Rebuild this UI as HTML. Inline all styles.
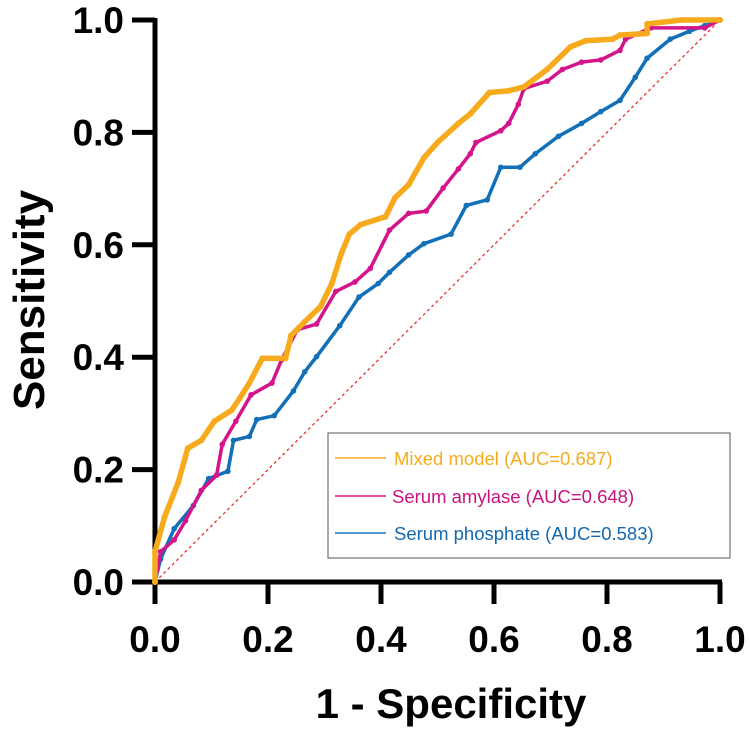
<!DOCTYPE html>
<html><head><meta charset="utf-8"><style>
html,body{margin:0;padding:0;background:#fff;}
svg{display:block;font-family:"Liberation Sans",Arial,sans-serif;}
</style></head><body>
<svg id="chart" width="750" height="735" viewBox="0 0 750 735" xmlns="http://www.w3.org/2000/svg">
<g id="axes"></g>
<g id="series"></g>
<g id="legend">
  <rect x="328" y="433" width="402" height="125" fill="#fff" stroke="#555" stroke-width="1"/>
  <g>
    <line x1="335" y1="458" x2="386" y2="458" stroke="#F5AC1E" stroke-width="1.5"/>
    <text x="394" y="465" font-size="18.5" fill="#F5AC1E">Mixed model (AUC=0.687)</text>
  </g>
  <g>
    <line x1="335" y1="496" x2="386" y2="496" stroke="#D6148C" stroke-width="1.5"/>
    <text x="392" y="503" font-size="18.5" fill="#C8137F">Serum amylase (AUC=0.648)</text>
  </g>
  <g>
    <line x1="335" y1="533" x2="386" y2="533" stroke="#1C78BE" stroke-width="1.5"/>
    <text x="394" y="540" font-size="18.5" fill="#1468AE">Serum phosphate (AUC=0.583)</text>
  </g>
</g>
</svg>
<script>
const xTicks = [0, 0.2, 0.4, 0.6, 0.8, 1.0];
const yTicks = [0, 0.2, 0.4, 0.6, 0.8, 1.0];
const tickLabels = ["0.0", "0.2", "0.4", "0.6", "0.8", "1.0"];
const mixedFpr = [0,0,0.017,0.041,0.058,0.082,0.105,0.136,0.15,0.167,0.19,0.231,0.241,0.265,0.293,0.313,0.33,0.344,0.364,0.408,0.425,0.449,0.476,0.5,0.537,0.558,0.592,0.626,0.653,0.694,0.735,0.762,0.81,0.823,0.871,0.871,0.932,1];
const mixedTpr = [0,0.054,0.116,0.177,0.238,0.252,0.286,0.306,0.327,0.354,0.398,0.398,0.439,0.463,0.49,0.531,0.585,0.619,0.636,0.65,0.684,0.707,0.755,0.782,0.816,0.833,0.871,0.874,0.881,0.912,0.952,0.963,0.966,0.973,0.976,0.993,1,1];
const amyFpr = [0,0.01,0.034,0.054,0.082,0.109,0.119,0.143,0.17,0.207,0.224,0.252,0.286,0.32,0.354,0.381,0.415,0.449,0.48,0.51,0.537,0.558,0.568,0.612,0.626,0.643,0.653,0.694,0.721,0.755,0.789,0.823,0.833,0.878,0.973,1];
const amyTpr = [0,0.054,0.075,0.109,0.163,0.19,0.245,0.286,0.333,0.354,0.395,0.449,0.459,0.517,0.534,0.558,0.626,0.656,0.66,0.701,0.735,0.762,0.782,0.803,0.816,0.85,0.878,0.891,0.912,0.925,0.929,0.946,0.966,0.986,0.986,1];
const phosFpr = [0,0.01,0.034,0.068,0.095,0.129,0.139,0.167,0.18,0.211,0.245,0.265,0.286,0.327,0.361,0.395,0.415,0.449,0.476,0.524,0.551,0.588,0.612,0.646,0.673,0.714,0.755,0.789,0.823,0.85,0.871,0.912,0.946,0.973,1];
const phosTpr = [0,0.041,0.095,0.136,0.184,0.197,0.252,0.259,0.289,0.296,0.34,0.374,0.401,0.456,0.507,0.531,0.551,0.582,0.602,0.619,0.67,0.68,0.738,0.738,0.762,0.793,0.816,0.837,0.857,0.898,0.932,0.966,0.98,0.99,1];

const X0=155, X1=720, Y0=582, Y1=20;
const sx = v => X0 + v*(X1-X0);
const sy = v => Y0 - v*(Y0-Y1);
const NS="http://www.w3.org/2000/svg";
function mk(tag, attrs, parent){const e=document.createElementNS(NS,tag);for(const k in attrs)e.setAttribute(k,attrs[k]);parent.appendChild(e);return e;}
const axes=document.getElementById('axes');
const series=document.getElementById('series');

const diag=mk('line',{x1:sx(0),y1:sy(0),x2:sx(1),y2:sy(1),stroke:'#E8302A','stroke-width':1.3,'stroke-dasharray':'3,3'},series);



function drawSeries(fx, ty, color, width, r, name){
  const g=mk('g',{},series);
  
  
  const pts=fx.map((v,i)=>sx(v)+','+sy(ty[i])).join(' ');
  mk('polyline',{points:pts,fill:'none',stroke:color,'stroke-width':width,'stroke-linejoin':'round'},g);
  fx.forEach((v,i)=>{
    const c=mk('circle',{cx:sx(v),cy:sy(ty[i]),r:r,fill:color},g);
    
    
  });
}
drawSeries(phosFpr, phosTpr, '#1170B8', 3.5, 2.8, 'serum-phosphate-curve');
drawSeries(amyFpr, amyTpr, '#D4148A', 3.5, 2.8, 'serum-amylase-curve');
drawSeries(mixedFpr, mixedTpr, '#F7AA1C', 5.5, 3, 'mixed-model-curve');

const xa=mk('line',{x1:132,y1:Y0,x2:X1+2,y2:Y0,stroke:'#000','stroke-width':5},axes);


const ya=mk('line',{x1:X0,y1:Y1-2,x2:X0,y2:Y0+22,stroke:'#000','stroke-width':5},axes);


xTicks.forEach((v,i)=>{
  mk('line',{x1:sx(v),y1:Y0,x2:sx(v),y2:Y0+22,stroke:'#000','stroke-width':5},axes);
  const t=mk('text',{x:sx(v),y:652,'font-size':37,'font-weight':'bold','text-anchor':'middle',fill:'#000'},axes);
  t.textContent=tickLabels[i];
  
  
});
yTicks.forEach((v,i)=>{
  mk('line',{x1:132,y1:sy(v),x2:X0,y2:sy(v),stroke:'#000','stroke-width':5},axes);
  const t=mk('text',{x:124,y:sy(v)+13,'font-size':37,'font-weight':'bold','text-anchor':'end',fill:'#000'},axes);
  t.textContent=tickLabels[i];
  
  
});
const xt=mk('text',{x:451,y:718,'font-size':42,'font-weight':'bold','text-anchor':'middle',fill:'#000'},axes);
xt.textContent='1 - Specificity';


const yt=mk('text',{x:0,y:0,'font-size':44,'font-weight':'bold','text-anchor':'middle',fill:'#000',transform:'translate(44,300) rotate(-90)'},axes);
yt.textContent='Sensitivity';


</script>
</body></html>
